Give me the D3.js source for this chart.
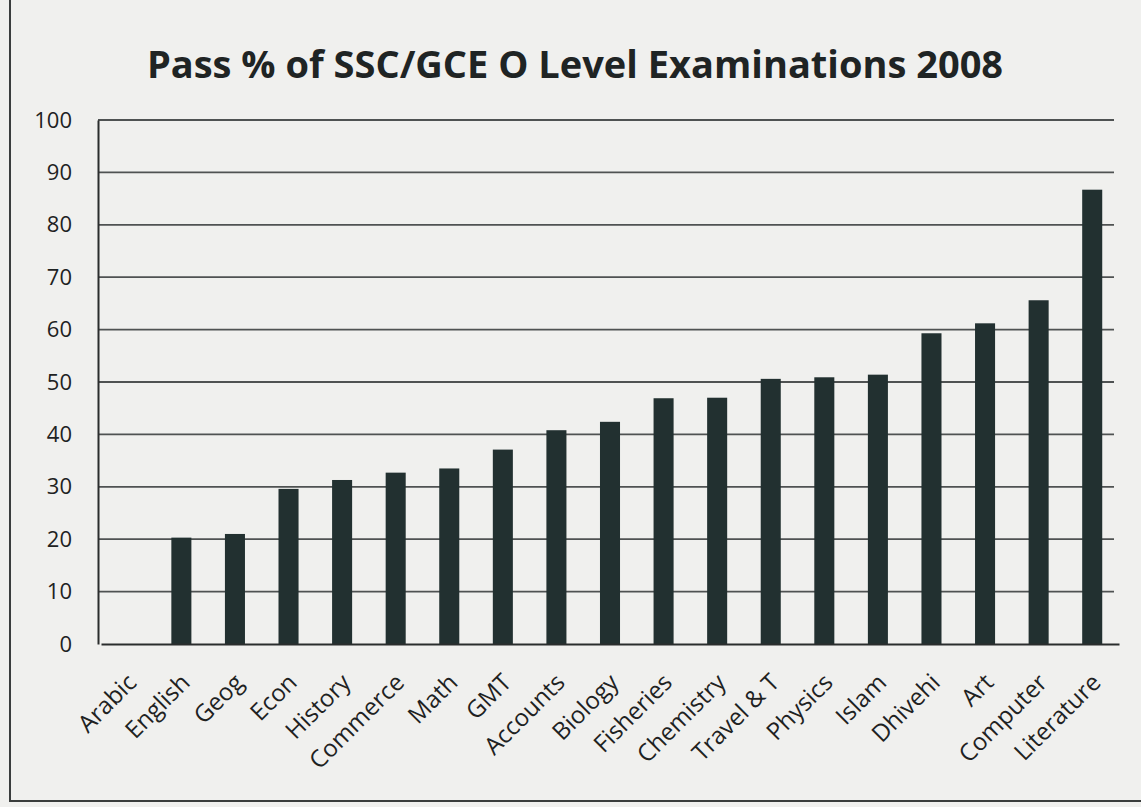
<!DOCTYPE html>
<html><head><meta charset="utf-8">
<script src="https://cdn.jsdelivr.net/npm/d3@7"></script>
<style>
html,body{margin:0;padding:0;background:#f0f0ee;}
svg{display:block;}
</style></head>
<body>
<svg id="chart" width="1141" height="807"></svg>
<script>
const categories = ["Arabic","English","Geog","Econ","History","Commerce","Math","GMT","Accounts","Biology","Fisheries","Chemistry","Travel & T","Physics","Islam","Dhivehi","Art","Computer","Literature"];
const passPct = [0,20.3,21.0,29.6,31.3,32.7,33.5,37.1,40.8,42.4,46.9,47.0,50.6,50.9,51.4,59.3,61.2,65.6,86.7];
const yTicks = [0,10,20,30,40,50,60,70,80,90,100];
const title = "Pass % of SSC/GCE O Level Examinations 2008";

const svg = d3.select("#chart");
const W = 1141, H = 807;
const m = {left: 98, right: 1119, top: 120, bottom: 644};

svg.append("rect").attr("x",0).attr("y",0).attr("width",W).attr("height",H).attr("fill","#f0f0ee");
svg.append("rect").attr("x",10).attr("y",-10).attr("width",1145).attr("height",811)
  .attr("fill","none").attr("stroke","#3a3d3d").attr("stroke-width",2);

const x = d3.scaleBand().domain(categories).range([m.left + 3, m.right]).paddingInner(0.626).paddingOuter(0.313);
const y = d3.scaleLinear().domain([0,100]).range([m.bottom, m.top]);

// gridlines
svg.append("g").selectAll("line").data(yTicks.filter(d=>d>0)).join("line")
  .attr("x1", m.left).attr("x2", m.right - 5)
  .attr("y1", d=>y(d)).attr("y2", d=>y(d))
  .attr("stroke","#4f5252").attr("stroke-width",1.8);

// bars
svg.append("g").selectAll("rect").data(categories).join("rect")
  .attr("x", c=>x(c)).attr("width", x.bandwidth())
  .attr("y", (c,i)=>y(passPct[i])).attr("height",(c,i)=>y(0)-y(passPct[i]))
  .attr("fill","#223030");

// y axis
const yAxis = d3.axisLeft(y).tickValues(yTicks).tickSize(0).tickPadding(26);
const ga = svg.append("g").attr("transform",`translate(${m.left},0)`).call(yAxis);
ga.select(".domain").attr("stroke","#2a2d2d").attr("stroke-width",2);
ga.selectAll("text").attr("font-family","'Open Sans', sans-serif").attr("font-size",22).attr("fill","#1e2222");

// x axis
const xAxis = d3.axisBottom(x).tickSize(0).tickPadding(0);
const gx = svg.append("g").attr("transform",`translate(0,${m.bottom})`).call(xAxis);
gx.select(".domain").attr("stroke","#2a2d2d").attr("stroke-width",2);
gx.selectAll("text")
  .attr("font-family","'Open Sans', sans-serif").attr("font-size",24).attr("fill","#1e2222")
  .attr("text-anchor","end")
  .attr("dy",null)
  .attr("transform","translate(10,40) rotate(-45)");

svg.append("text").attr("x", 575).attr("y", 78).attr("text-anchor","middle")
  .attr("font-family","'Open Sans', sans-serif").attr("font-weight",700).attr("font-size",38)
  .attr("fill","#1f2424").text(title);
</script>
</body></html>
